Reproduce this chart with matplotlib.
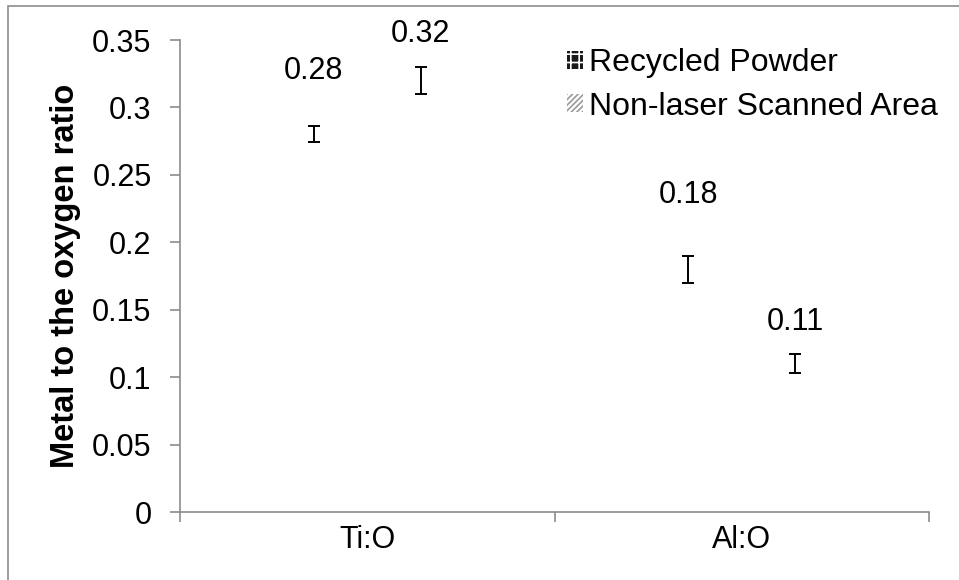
import matplotlib
matplotlib.use("Agg")
import matplotlib.pyplot as plt
from matplotlib.patches import Patch, Rectangle
import numpy as np

plt.rcParams['font.family'] = ['Liberation Sans', 'DejaVu Sans']
plt.rcParams['hatch.linewidth'] = 1.2

categories = ["Ti:O", "Al:O"]
series_names = ["Recycled Powder", "Non-laser Scanned Area"]
recycled = [0.28, 0.18]
recycled_err = [0.006, 0.010]
non_laser = [0.32, 0.11]
non_laser_err = [0.010, 0.007]
value_labels = [["0.28", "0.18"], ["0.32", "0.11"]]
# label heights above each bar top, in points
label_offsets = [[46, 53.5], [33.5, 30]]

FS = 22

fig = plt.figure(figsize=(9.59, 5.8), dpi=100)
ax = fig.add_axes([180 / 959, 1 - 512 / 580, (929 - 180) / 959, (512 - 40) / 580])

# outer chart-area frame
fig.patches.append(Rectangle((8 / 959, -0.02), 1.1, 1 - 6 / 580 + 0.02,
                             transform=fig.transFigure, facecolor='none',
                             edgecolor='#8c8c8c', linewidth=1.2, zorder=0))

x = np.arange(len(categories))
width = 0.286
offsets = [-width / 2, width / 2]
values = [recycled, non_laser]
errors = [recycled_err, non_laser_err]

for i in range(2):
    xs = x + offsets[i]
    ax.bar(xs, values[i], width, color='white', edgecolor='none', zorder=1)
    ax.errorbar(xs, values[i], yerr=errors[i], fmt='none', ecolor='black',
                elinewidth=1.4, capsize=4.3, capthick=1.4, zorder=3)
    for xi, v, lab, off in zip(xs, values[i], value_labels[i], label_offsets[i]):
        ax.annotate(lab, (xi, v), xytext=(0, off), textcoords='offset points',
                    ha='center', va='center', fontsize=FS)

ax.set_xlim(-0.5, len(categories) - 0.5)
ax.set_ylim(0, 0.35)
ax.set_yticks(np.arange(0, 0.351, 0.05))
ax.set_yticklabels(["0", "0.05", "0.1", "0.15", "0.2", "0.25", "0.3", "0.35"])
ax.set_xticks(x)
ax.set_xticklabels(categories, fontsize=FS)
ax.set_xticks(np.arange(-0.5, len(categories), 1.0), minor=True)
ax.tick_params(axis='x', which='major', length=0, pad=9.5)
ax.tick_params(axis='x', which='minor', length=7.5, color='#8c8c8c', width=1.2, direction='out')
ax.tick_params(axis='y', labelsize=FS, length=7.5, color='#8c8c8c', width=1.2,
               direction='out', pad=13)

for s in ['top', 'right']:
    ax.spines[s].set_visible(False)
for s in ['left', 'bottom']:
    ax.spines[s].set_color('#8c8c8c')
    ax.spines[s].set_linewidth(1.2)

ax.set_ylabel("Metal to the oxygen ratio", fontsize=23.5, fontweight='bold')
ax.yaxis.set_label_coords((66 - 180) / 749, 0.5)
ax.yaxis.label.set_va('center')

handles = [
    Patch(facecolor='#1a1a1a', edgecolor='white', hatch='++', linewidth=0),
    Patch(facecolor='white', edgecolor='#9a9a9a', hatch='//////', linewidth=0),
]
leg = ax.legend(handles, series_names, loc='upper left', bbox_to_anchor=(0.487, 1.03),
                frameon=False, fontsize=23, handlelength=0.5, handleheight=0.5,
                handletextpad=0.2, labelspacing=0.42, borderaxespad=0.3)

fig.savefig("out.png", dpi=100)
